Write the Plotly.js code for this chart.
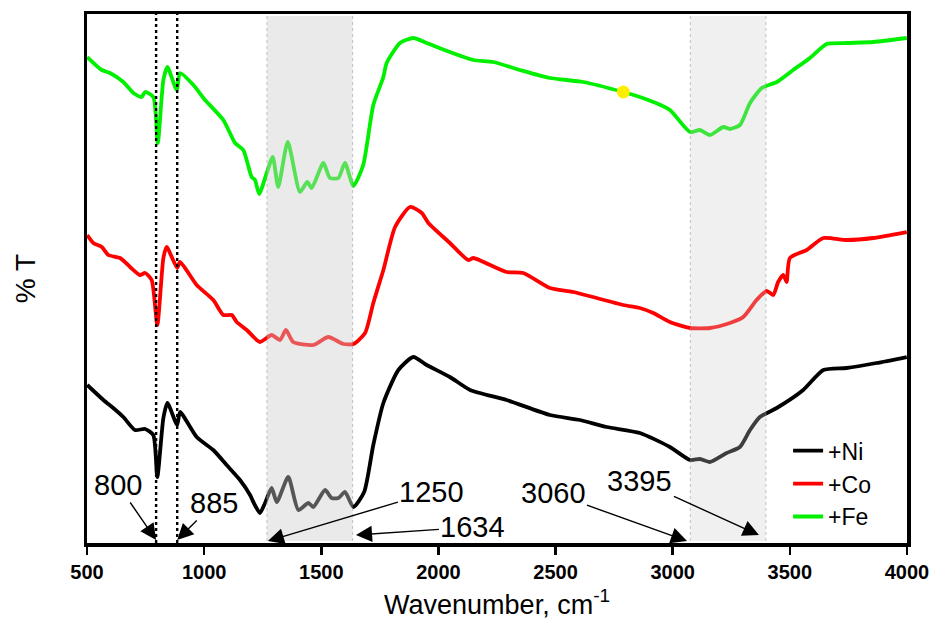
<!DOCTYPE html>
<html>
<head>
<meta charset="utf-8">
<script src="https://cdn.plot.ly/plotly-3.0.1.min.js"></script>
<style>html,body{margin:0;padding:0;background:#fff;}#chart{width:940px;height:628px;}</style>
</head>
<body>
<div id="chart"></div>
<script>
// Wavenumber (cm-1) and relative transmittance (arbitrary offset units)
const wnNi = [501,570,612,655,705,748,783,800,826,843,885,897,968,1039,1096,1153,1196,1210,1238,1260,1288,1310,1359,1402,1445,1466,1516,1544,1573,1601,1637,1683,1722,1765,1829,1893,1950,2049,2135,2291,2476,2604,2718,2860,2988,3074,3116,3159,3230,3287,3330,3372,3444,3557,3643,3742,3870,3999];
const tNi  = [158,143,135,126,113,114,108,66,125,140,118,131,106,93,78,63,48,41,30,40,55,41,66,33,40,36,53,45,45,51,36,51,98,140,173,186,178,166,153,143,128,123,116,110,96,83,84,81,90,96,113,126,135,153,173,175,180,186];

const wnCo = [501,527,563,591,641,684,726,748,776,800,826,840,885,897,968,1039,1082,1118,1139,1182,1238,1288,1324,1349,1380,1466,1530,1594,1637,1687,1722,1765,1815,1879,1929,1957,2049,2127,2149,2291,2362,2476,2576,2789,2860,2917,2988,3074,3159,3244,3301,3358,3401,3429,3450,3472,3486,3500,3572,3643,3742,3856,3999];
const tCo  = [308,300,296,288,285,276,268,270,263,218,285,296,275,281,258,243,228,228,221,213,201,208,203,213,201,198,206,199,199,210,240,273,316,336,330,320,300,283,285,271,270,255,251,238,235,230,221,215,215,220,226,243,252,248,261,268,261,285,293,305,303,305,311];

const wnFe = [501,563,598,655,698,733,748,783,802,826,843,883,897,954,1004,1082,1132,1167,1203,1217,1235,1267,1293,1316,1357,1409,1440,1459,1509,1537,1573,1601,1637,1679,1722,1765,1779,1836,1893,1950,2049,2149,2234,2348,2476,2618,2789,2860,2917,2988,3074,3116,3159,3216,3244,3287,3330,3380,3444,3514,3586,3657,3742,3856,3999];
const tFe  = [486,473,470,461,450,446,451,446,400,463,476,453,470,458,443,423,400,393,366,363,349,370,386,356,401,351,361,355,380,365,365,380,357,378,438,466,480,500,505,500,491,483,481,473,465,461,451,446,441,433,411,413,408,416,414,418,440,455,461,473,485,499,500,501,505];

const seriesNames = ['+Ni','+Co','+Fe'];
const seriesColors = ['#000000','#ff0000','#00f000'];
const markWn = [2789];
const markT = [451];

const xTicks = [500,1000,1500,2000,2500,3000,3500,4000];
const bandRanges = [[1268,1634],[3075,3398]];
const dottedLines = [795,885];
const labels = [
  {text:'800',  x:795,  y:3, ax:-38, ay:-55},
  {text:'885',  x:885,  y:3, ax:37,  ay:-37},
  {text:'1250', x:1272, y:2, ax:164, ay:-49},
  {text:'1634', x:1648, y:8, ax:117, ay:-8},
  {text:'3060', x:3061, y:2, ax:-134,ay:-48},
  {text:'3395', x:3368, y:8, ax:-119,ay:-54}
];

const xs = [wnNi, wnCo, wnFe];
const ys = [tNi, tCo, tFe];
const traces = seriesNames.map((n,i)=>({
  x: xs[i], y: ys[i], name: n, type:'scatter', mode:'lines',
  line:{color:seriesColors[i], width:3.8, shape:'spline', smoothing:0.6}
}));
traces.push({x:markWn, y:markT, type:'scatter', mode:'markers', showlegend:false, hoverinfo:'skip',
  marker:{color:'#ffee00', size:13, line:{width:0}}});

const shapes = [];
bandRanges.forEach((r,i)=>{
  shapes.push({type:'rect', xref:'x', yref:'y', x0:r[0], x1:r[1], y0:2, y1:527, layer:'above',
    fillcolor: i===0 ? 'rgba(205,205,205,0.42)' : 'rgba(205,205,205,0.30)',
    line:{width:0}});
  [r[0], r[1]].forEach(x=>{
    shapes.push({type:'line', xref:'x', yref:'y', x0:x, x1:x, y0:2, y1:527, layer:'above',
      line:{color:'rgba(150,150,150,0.55)', width:1, dash:'dot'}});
  });
});
dottedLines.forEach(x=>{
  shapes.push({type:'line', xref:'x', yref:'paper', x0:x, x1:x, y0:0, y1:1,
    line:{color:'#000', width:2.4, dash:'dot'}});
});

const annotations = labels.map(a=>({
  text:a.text, x:a.x, y:a.y, xref:'x', yref:'y', ax:a.ax, ay:a.ay, axref:'pixel', ayref:'pixel',
  showarrow:true, arrowhead:2, arrowsize:2.3, arrowwidth:1.4, arrowcolor:'#000', standoff:0, startstandoff:0,
  font:{family:'Arial, Liberation Sans, sans-serif', size:29, color:'#000'}
}));

const layout = {
  width:940, height:628,
  margin:{l:87, r:33, t:14, b:85},
  paper_bgcolor:'#fff', plot_bgcolor:'#fff',
  showlegend:true,
  legend:{x:0.855, y:0.215, xanchor:'left', yanchor:'top', bgcolor:'rgba(0,0,0,0)',
    font:{family:'Arial, Liberation Sans, sans-serif', size:23, color:'#000'}, tracegroupgap:0},
  xaxis:{range:[500,4000], tickvals:xTicks, ticktext:xTicks.map(String),
    showgrid:false, zeroline:false, showline:true, mirror:true, linecolor:'#000', linewidth:3.5,
    ticks:'outside', ticklen:8, tickwidth:2.5, tickcolor:'#000',
    tickfont:{family:'Arial, Liberation Sans, sans-serif', size:20, color:'#000', weight:'bold'},
    title:{text:'Wavenumber, cm<sup>-1</sup>', font:{family:'Arial, Liberation Sans, sans-serif', size:27, color:'#000'}, standoff:14}},
  yaxis:{range:[0,529], showgrid:false, zeroline:false, showline:true, mirror:true, linecolor:'#000', linewidth:3.5,
    showticklabels:false, ticks:'',
    title:{text:'% T', font:{family:'Arial, Liberation Sans, sans-serif', size:28, color:'#000'}, standoff:40}},
  shapes:shapes,
  annotations:annotations
};

Plotly.newPlot('chart', traces, layout, {displayModeBar:false, staticPlot:true});
</script>
</body>
</html>
